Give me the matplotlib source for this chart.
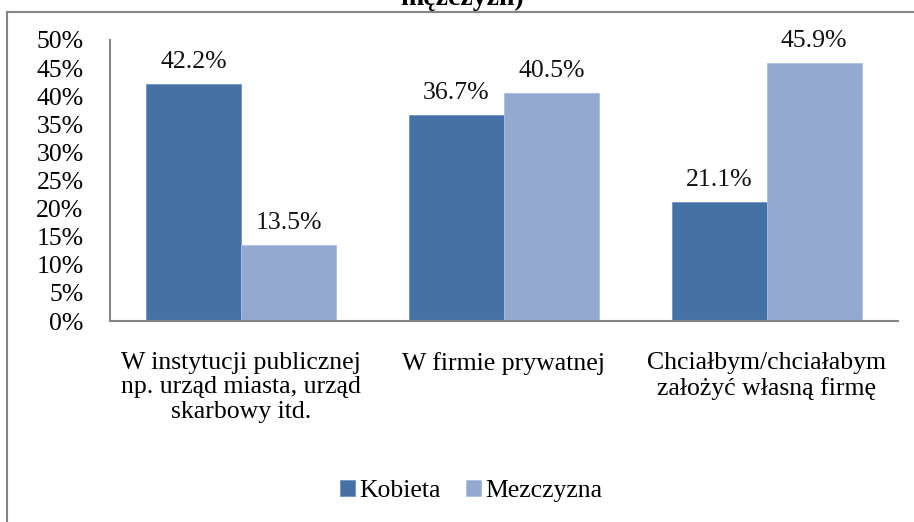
import numpy as np
import matplotlib
matplotlib.use("Agg")
import matplotlib.pyplot as plt
from matplotlib.lines import Line2D

plt.rcParams['font.family'] = ['Liberation Serif', 'DejaVu Serif']

categories = ["W instytucji publicznej\nnp. urząd miasta, urząd\nskarbowy itd.",
              "W firmie prywatnej",
              "Chciałbym/chciałabym\nzałożyć własną firmę"]
kobieta = [42.2, 36.7, 21.1]
mezczyzna = [13.5, 40.5, 45.9]
series_names = ["Kobieta", "Mezczyzna"]
yticks = [0, 5, 10, 15, 20, 25, 30, 35, 40, 45, 50]

dark = '#4572A6'
light = '#94A9D0'
frame_col = '#868686'
fs = 18.5

W, H = 914, 522
fig = plt.figure(figsize=(W / 100, H / 100), dpi=100)
ax = fig.add_axes([110 / W, 1 - 321 / H, (898 - 110) / W, (321 - 40) / H])

x = np.arange(len(categories))
bw = 0.362
b1 = ax.bar(x - bw / 2, kobieta, bw, color=dark, edgecolor='#6f93c3', linewidth=0.6, label=series_names[0])
b2 = ax.bar(x + bw / 2, mezczyzna, bw, color=light, edgecolor='#aabfe0', linewidth=0.6, label=series_names[1])

for bars, vals in [(b1, kobieta), (b2, mezczyzna)]:
    for r, v in zip(bars, vals):
        ax.annotate(f"{v:.1f}%", (r.get_x() + r.get_width() / 2, v),
                    xytext=(0, 11.5), textcoords='offset points',
                    ha='center', va='baseline', fontsize=fs, color='#111111')

ax.set_xlim(-0.5, 2.5)
ax.set_ylim(0, 50)
ax.set_yticks(yticks)
ax.set_yticklabels([f"{t}%" for t in yticks])
ax.set_xticks(x)
ax.set_xticklabels(categories, linespacing=1.17)
ax.tick_params(axis='y', length=0, pad=19, labelsize=fs)
ax.tick_params(axis='x', length=0, pad=22, labelsize=fs)
for s in ['top', 'right']:
    ax.spines[s].set_visible(False)
for s in ['left', 'bottom']:
    ax.spines[s].set_color(frame_col)
    ax.spines[s].set_linewidth(1.5)

fig.legend(handles=[b1, b2], labels=series_names, loc='center',
           bbox_to_anchor=(471 / W, 1 - 491 / H), ncol=2, frameon=False,
           fontsize=fs, handlelength=0.6, handleheight=0.55,
           handletextpad=0.15, columnspacing=1.0, borderaxespad=0)

# chart frame (only top and left edges visible in the crop)
fig.add_artist(Line2D([7.5 / W, 1], [1 - 12 / H, 1 - 12 / H], transform=fig.transFigure,
                      color=frame_col, linewidth=1.5))
fig.add_artist(Line2D([7.5 / W, 7.5 / W], [0, 1 - 12 / H], transform=fig.transFigure,
                      color=frame_col, linewidth=1.5))

# title, cut off by the top of the picture as in the source
fig.text(462 / W, 1 - 5 / H, "mężczyzn)", ha='center', va='baseline',
         fontsize=20, fontweight='bold')

fig.savefig("out.png", dpi=100)
